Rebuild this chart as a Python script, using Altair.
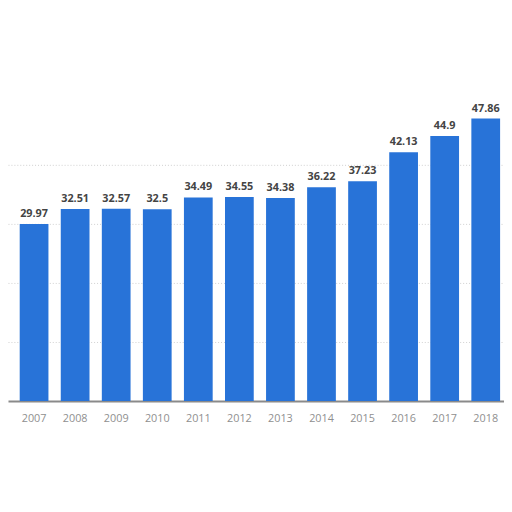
import altair as alt
import pandas as pd

years = ["2007", "2008", "2009", "2010", "2011", "2012", "2013", "2014", "2015", "2016", "2017", "2018"]
values = [29.97, 32.51, 32.57, 32.5, 34.49, 34.55, 34.38, 36.22, 37.23, 42.13, 44.9, 47.86]
labels = ["29.97", "32.51", "32.57", "32.5", "34.49", "34.55", "34.38", "36.22", "37.23", "42.13", "44.9", "47.86"]
grid_values = [10, 20, 30, 40]

df = pd.DataFrame({"year": years, "value": values, "label": labels})

x = alt.X(
    "year:O",
    sort=years,
    title=None,
    scale=alt.Scale(paddingInner=0.3, paddingOuter=0.19, align=0.75),
    axis=alt.Axis(
        labelAngle=0,
        labelColor="#8f8f8f",
        labelFontSize=11,
        labelFont="Open Sans",
        labelPadding=12,
        ticks=False,
        domainColor="#8a8a8a",
        domainWidth=2,
        grid=False,
    ),
)
y = alt.Y(
    "value:Q",
    title=None,
    scale=alt.Scale(domain=[0, 66], nice=False),
    axis=alt.Axis(
        labels=False,
        ticks=False,
        domain=False,
        values=grid_values,
        grid=True,
        gridColor="#cfcfcf",
        gridDash=[1, 2],
        gridWidth=1,
        minExtent=0,
    ),
)

bars = alt.Chart(df).mark_bar(color="#2873D8").encode(x=x, y=y)
text = alt.Chart(df).mark_text(
    baseline="bottom", dy=-5, fontSize=11, fontWeight="bold", font="Open Sans", color="#444444"
).encode(x=x, y=y, text="label:N")

chart = (
    alt.layer(bars, text)
    .properties(width=504, height=396, padding=0)
    .configure_view(stroke=None)
)

chart.save("out.html", embed_options={"renderer": "svg", "actions": False})
